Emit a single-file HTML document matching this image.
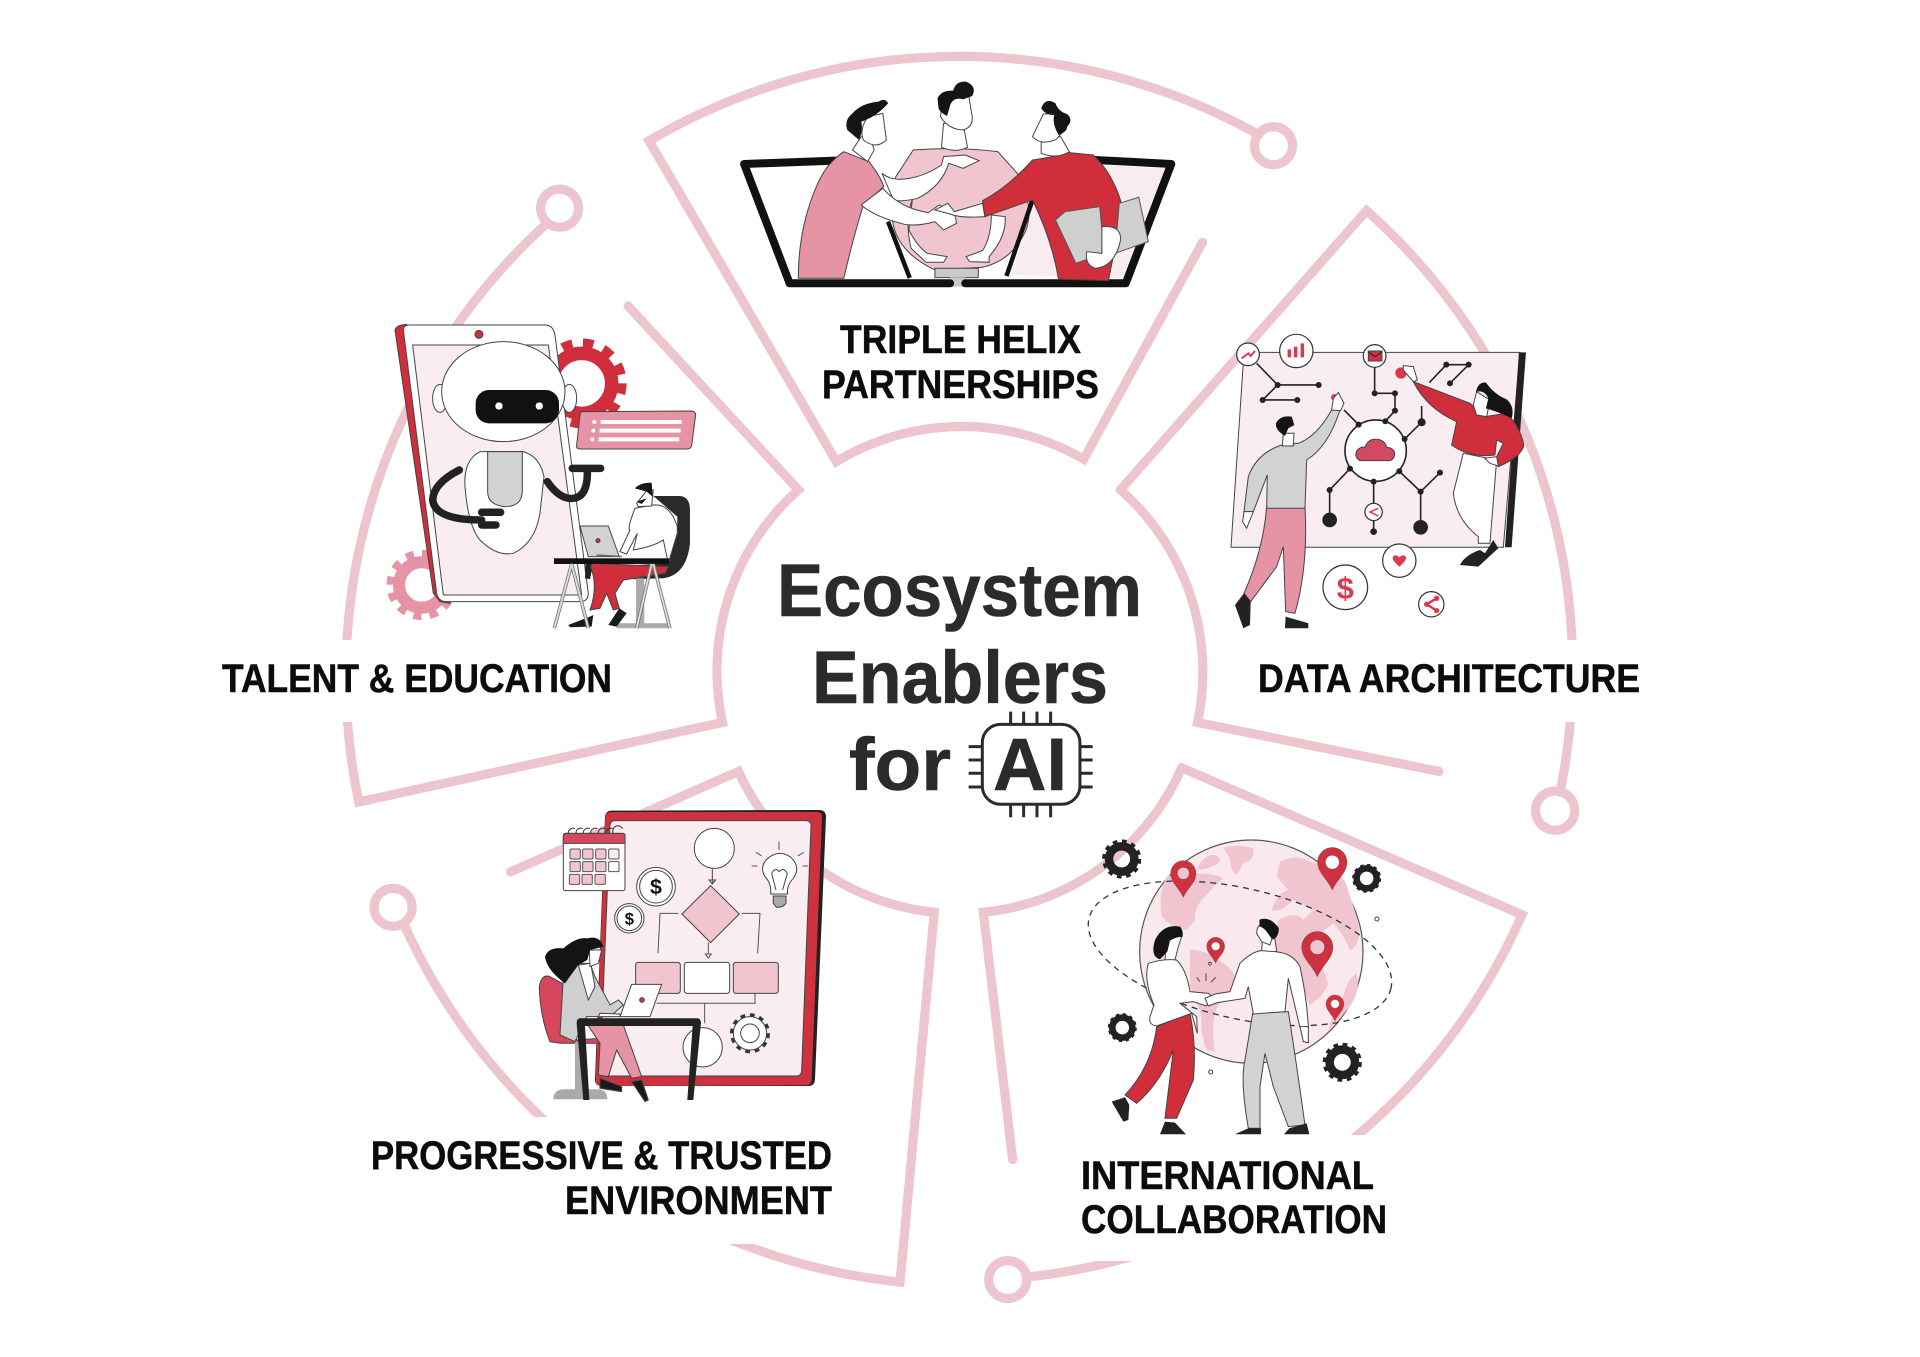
<!DOCTYPE html>
<html><head><meta charset="utf-8"><style>
html,body{margin:0;padding:0;background:#fff}
svg{display:block}
.i *{vector-effect:non-scaling-stroke}
.l{font:bold 40px "Liberation Sans",sans-serif;fill:#0c0c0c;stroke:#0c0c0c;stroke-width:.5px}
.c{font:bold 74px "Liberation Sans",sans-serif;fill:#2b2b2b;stroke:#2b2b2b;stroke-width:.6px}
</style></head><body>
<svg xmlns="http://www.w3.org/2000/svg" width="1920" height="1357" viewBox="0 0 1920 1357">
<rect width="1920" height="1357" fill="#fff"/>
<defs>
<g id="pin"><path d="M0,0C-14,-30 -38,-45 -38,-72A38,38 0 1 1 38,-72C38,-45 14,-30 0,0Z" fill="#cf323f" stroke="#444"/><circle cx="0" cy="-72" r="18" fill="currentColor" stroke="#444"/></g>
</defs>

<!-- pink structure -->
<g transform="scale(1.2245)" fill="none" stroke="#edc5ce" stroke-width="7.5" stroke-linecap="round">
<path stroke-linejoin="miter" stroke-miterlimit="20" d="M1028,110A500,500 0 0 0 530,115L683,377A198,198 0 0 1 885,375L982,198"/>
<path stroke-miterlimit="20" d="M915,400L1116,172A500,500 0 0 1 1274,647"/>
<path stroke-miterlimit="20" d="M915,400A198,198 0 0 1 978,590L1175,630"/>
<path stroke-miterlimit="20" d="M965,627L1243,747A500,500 0 0 1 838,1043"/>
<path stroke-miterlimit="20" d="M965,627A198,198 0 0 1 803,745L827,947"/>
<path stroke-miterlimit="20" d="M330,755A500,500 0 0 0 735,1047L763,745A198,198 0 0 1 603,630L417,712"/>
<path stroke-miterlimit="20" d="M447,182A500,500 0 0 0 293,655L590,590A198,198 0 0 1 652,400L513,250"/>
<circle cx="1040" cy="119" r="15.5"/><circle cx="1270" cy="662" r="16"/><circle cx="457" cy="170" r="15.5"/><circle cx="321" cy="741" r="15.5"/><circle cx="823" cy="1045" r="15.5"/>
</g>
<!-- label covers -->
<g fill="#fff">
<rect x="1250" y="640" width="410" height="82"/><rect x="210" y="640" width="410" height="82"/>
<rect x="465" y="1117" width="380" height="127"/><rect x="1070" y="1135" width="330" height="126"/>
</g>

<!-- TOP illustration -->
<g class="i" transform="translate(640,40) scale(.4337,.3333)" stroke="#444" stroke-width="1">
<polygon points="1060,375 1212,385 1118,715 855,705 905,500" fill="#f9ecf0" stroke="none"/>
<path d="M630,330Q730,320 825,335L870,400Q910,500 890,570Q860,660 790,682L680,690Q600,640 585,560Q570,470 590,410Z" fill="#f0c5cf"/>
<rect x="680" y="685" width="100" height="28" fill="#c9c9c9"/><rect x="715" y="712" width="35" height="28" fill="#c9c9c9" stroke="none"/>
<path d="M450,362L240,372L345,730L715,730M750,730L1120,730L1225,372L1050,360" fill="none" stroke="#111" stroke-width="8" stroke-linejoin="round" stroke-linecap="round"/>
<path d="M572,545L622,714M905,480L845,708" fill="none" stroke="#111" stroke-width="4.5"/>
<path d="M700,250L695,322Q730,340 755,322L745,250Z" fill="#fff"/>
<path d="M697,180L693,230Q710,268 745,270Q768,262 766,230L757,160Z" fill="#fff"/>
<path d="M686,175Q695,150 722,152Q728,122 752,125Q778,140 766,168L745,178Q725,170 716,192L708,228Q688,215 688,200Z" fill="#141414" stroke="none"/>
<path d="M558,400Q575,418 600,418Q650,415 695,375L700,350L750,345L782,362L745,385L712,370Q695,440 640,475Q610,485 585,482Z" fill="#fff"/>
<path d="M628,478L620,570Q640,620 662,640L708,650L700,667L660,667L625,625Q610,540 628,478ZM810,525L842,530Q845,590 805,650L805,667L760,665L752,650L790,632Q810,590 810,525Z" fill="#fff"/>
<path d="M470,335L528,365Q555,410 562,440L515,495Q490,600 470,715L365,715Q365,560 410,430Q430,370 470,335Z" fill="#e593a5"/>
<path d="M490,330L525,365L540,330L530,290L510,290Z" fill="#fff"/>
<path d="M525,230Q505,270 515,300Q545,330 568,300L560,220Z" fill="#fff"/>
<path d="M572,190Q565,172 550,185Q510,190 490,220Q470,240 478,270L505,300Q515,270 510,245Q545,230 572,190Z" fill="#141414" stroke="none"/>
<path d="M560,445Q600,505 665,518L690,495L725,520L730,550L700,570L680,545Q640,560 610,553Q540,530 510,495Z" fill="#fff"/>
<path d="M905,360Q950,352 990,338L1045,345Q1090,400 1110,490L1105,560L1080,722L965,718Q950,600 905,480L795,530L790,482Q850,440 905,360Z" fill="#cf2e3a"/>
<path d="M925,300L925,340Q960,358 990,336L970,290Z" fill="#fff"/>
<path d="M930,222L905,290Q925,318 960,298L975,275L965,220Z" fill="#fff"/>
<path d="M925,205Q935,170 958,190Q965,215 985,222Q1000,240 985,260Q985,275 965,285Q950,250 955,225Q935,225 925,205Z" fill="#141414" stroke="none"/>
<path d="M795,530Q740,535 715,522L680,510L710,490L725,515L790,490Z" fill="#fff"/>
<polygon points="1105,490 1150,472 1172,605 1095,640" fill="#cfcfcf" stroke="#555"/>
<polygon points="958,540 980,515 1060,500 1070,640 1005,670" fill="#cfcfcf" stroke="#555"/>
<path d="M1065,560Q1110,555 1108,600Q1095,680 1050,685Q1025,675 1030,635L1065,640Z" fill="#fff"/>
</g>

<!-- DATA illustration -->
<g class="i" transform="translate(1120,200) scale(.3333)" stroke="#444" stroke-width="1">
<polygon points="372,457 1200,457 1150,1042 333,1042" fill="#f9edf1"/>
<polygon points="1197,457 1218,457 1175,1042 1155,1042" fill="#222" stroke="none"/>
<g fill="none" stroke="#222" stroke-width="1.6">
<path d="M410,490L473,555L596,555M473,555L428,600L532,600"/>
<path d="M764,500L764,580L825,580L825,632L796,664"/>
<path d="M672,630L716,674M905,618L905,667L854,717M928,548L979,494L1046,494L990,550"/>
<path d="M690,806L629,870L629,960M761,845L761,995M838,814L902,875L902,982M902,875L960,818"/>
</g>
<circle cx="767" cy="752" r="92" fill="#fff" stroke="#222" stroke-width="1.6"/>
<path d="M720,782Q700,770 712,750Q725,738 735,742Q745,715 770,718Q795,720 800,742Q825,745 824,765Q820,782 805,782Z" fill="#d34a60" stroke="#444"/>
<g fill="#222" stroke="none">
<circle cx="473" cy="555" r="9"/><circle cx="596" cy="555" r="9"/><circle cx="428" cy="600" r="9"/><circle cx="532" cy="600" r="9"/>
<circle cx="764" cy="580" r="9"/><circle cx="825" cy="580" r="9"/><circle cx="825" cy="632" r="9"/><circle cx="796" cy="664" r="9"/><circle cx="716" cy="674" r="9"/>
<circle cx="905" cy="667" r="12"/><circle cx="854" cy="717" r="9"/><circle cx="979" cy="494" r="9"/><circle cx="1046" cy="494" r="9"/><circle cx="990" cy="550" r="9"/>
<circle cx="690" cy="806" r="9"/><circle cx="629" cy="870" r="9"/><circle cx="629" cy="960" r="22"/><circle cx="761" cy="845" r="9"/><circle cx="761" cy="995" r="10"/>
<circle cx="838" cy="814" r="9"/><circle cx="902" cy="875" r="9"/><circle cx="902" cy="982" r="22"/><circle cx="960" cy="818" r="9"/>
</g>
<g fill="#fff" stroke="#333" stroke-width="1.2">
<circle cx="384" cy="463" r="34"/><circle cx="529" cy="453" r="50"/><circle cx="764" cy="468" r="34"/><circle cx="761" cy="936" r="26"/><circle cx="838" cy="1082" r="50"/><circle cx="676" cy="1162" r="67"/><circle cx="934" cy="1213" r="38"/>
</g>
<path d="M365,475L385,460L392,468L405,453" fill="none" stroke="#d93a50" stroke-width="2"/>
<path d="M508,472V448M527,472V440M547,472V430" stroke="#d93a50" stroke-width="3.5" fill="none"/>
<rect x="745" y="453" width="41" height="30" fill="#cf323f"/><path d="M745,456L765,470L786,456" fill="none" stroke="#222"/>
<path d="M838,1100Q815,1080 818,1072Q825,1060 838,1072Q852,1060 858,1072Q860,1082 838,1100Z" fill="#d93a50" stroke="none"/>
<text x="676" y="1196" text-anchor="middle" font-family="Liberation Sans" font-weight="bold" font-size="92" fill="#d93a50" stroke="none">$</text>
<path d="M950,1195L920,1213L950,1232" fill="none" stroke="#d93a50" stroke-width="2.5"/><circle cx="950" cy="1195" r="8" fill="#d93a50" stroke="none"/><circle cx="950" cy="1232" r="8" fill="#d93a50" stroke="none"/><circle cx="920" cy="1213" r="8" fill="#d93a50" stroke="none"/>
<path d="M775,925L750,936L775,948" fill="none" stroke="#d93a50" stroke-width="1.5"/>
<circle cx="843" cy="519" r="17" fill="#d93a50" stroke="none"/><circle cx="643" cy="592" r="10" fill="#d93a50" stroke="none"/>
<!-- man -->
<path d="M440,920L555,920Q565,1100 525,1240L497,1235L490,1040L470,1100L392,1205L372,1180Q430,1050 440,920Z" fill="#e593a5"/>
<path d="M372,1180L345,1215L370,1285L390,1275L392,1205Z" fill="#222" stroke="none"/>
<path d="M497,1250L565,1270L565,1285L495,1285Z" fill="#222" stroke="none"/>
<path d="M440,925L555,925L560,780Q625,740 660,630L635,630Q590,710 535,730L485,735Q410,760 385,830L372,935L400,935L442,825Z" fill="#d2d2d2"/>
<path d="M635,630L640,595L655,578L672,610L662,632Z" fill="#fff"/>
<path d="M372,935L400,935L380,985L368,965Z" fill="#fff"/>
<path d="M490,700L487,738L520,738L522,700Z" fill="#fff"/>
<path d="M495,708Q465,690 468,670Q480,645 515,650L523,675L505,685Z" fill="#141414" stroke="none"/>
<!-- woman -->
<path d="M1030,760L1000,880Q1010,960 1075,1010L1075,1030L1110,1030L1130,780Z" fill="#fff"/>
<path d="M1080,1050Q1035,1065 1020,1095L1075,1100L1135,1045L1120,1020L1095,1060Z" fill="#222" stroke="none"/>
<path d="M880,545L1050,610L1095,650L1160,640Q1200,680 1212,735Q1205,770 1135,800L1125,780L1150,730L1130,720L1125,765Q1050,775 995,735L1010,665Q920,625 880,545Z" fill="#cf2e3a"/>
<path d="M880,545L850,510L850,497L880,500L892,540Z" fill="#fff"/>
<path d="M1095,775L1130,770L1135,798L1110,790Z" fill="#fff"/>
<path d="M1070,575L1060,615L1070,645L1100,650L1110,600Z" fill="#fff"/>
<path d="M1068,575Q1075,545 1098,548Q1125,585 1160,598Q1185,620 1175,655Q1135,635 1098,625L1105,595Q1095,570 1068,575Z" fill="#141414" stroke="none"/>
</g>

<!-- ROBOT illustration -->
<g class="i" transform="translate(340,300) scale(.3333)" stroke="#444" stroke-width="1">
<circle cx="725" cy="250" r="90" fill="none" stroke="#cf2e3a" stroke-width="13.5"/>
<circle cx="725" cy="250" r="122" fill="none" stroke="#cf2e3a" stroke-width="8.7" stroke-dasharray="10.7 10.7"/>
<circle cx="245" cy="855" r="68" fill="none" stroke="#e593a5" stroke-width="12"/>
<circle cx="245" cy="855" r="95" fill="none" stroke="#e593a5" stroke-width="7" stroke-dasharray="8.3 8.3"/>
<path d="M165,90Q168,75 200,73L330,910L300,905L280,880Z" fill="#cf2e3a"/>
<path d="M190,90Q190,75 210,75L615,75Q640,75 645,105L745,880Q745,905 720,905L320,905Q295,905 290,880Z" fill="#fff"/>
<polygon points="218,135 625,135 725,885 310,885" fill="#f9edf1"/>
<circle cx="417" cy="103" r="12" fill="#cf2e3a"/>
<ellipse cx="300" cy="295" rx="22" ry="42" fill="#fff"/><ellipse cx="688" cy="295" rx="22" ry="42" fill="#fff"/>
<ellipse cx="490" cy="275" rx="185" ry="150" fill="#fff"/>
<rect x="407" y="270" width="250" height="100" rx="40" fill="#111" stroke="none"/>
<circle cx="477" cy="318" r="11" fill="#fff" stroke="none"/><circle cx="598" cy="318" r="11" fill="#fff" stroke="none"/>
<path d="M420,455Q370,480 375,560Q385,680 420,720Q470,770 520,760Q585,730 600,640L612,530Q600,470 550,455Z" fill="#fff"/>
<path d="M443,455L547,455L547,575Q545,620 495,620Q443,615 443,575Z" fill="#d2d2d2"/>
<g fill="none" stroke="#222" stroke-width="7.5" stroke-linecap="round">
<path d="M358,510Q280,550 278,600Q285,660 425,660M425,637L482,637M425,675L468,675"/>
<path d="M622,545Q660,600 700,595Q745,590 742,508M697,505L782,505"/>
</g>
<path d="M722,335L1055,333Q1067,335 1067,345L1055,437Q1052,447 1042,447L720,447Q708,447 710,435L720,345Z" fill="#e593a5"/>
<path d="M782,366H1025M779,392H1022M776,418H1018" stroke="#fff" stroke-width="4" fill="none"/>
<circle cx="763" cy="366" r="6" fill="#fff" stroke="none"/><circle cx="760" cy="392" r="6" fill="#fff" stroke="none"/><circle cx="757" cy="418" r="6" fill="#fff" stroke="none"/>
<!-- seated man -->
<path d="M940,588L1020,588Q1050,590 1050,630L1050,730Q1040,825 970,835L880,838L890,795L985,790L1012,700L1012,650Z" fill="#2a2a2a" stroke="none"/>
<path d="M737,790L760,790L750,838L735,835Z" fill="#222" stroke="none"/>
<rect x="888" y="835" width="25" height="145" fill="#aaa" stroke="none"/>
<polygon points="830,970 980,970 990,985 830,985" fill="#aaa" stroke="none"/>
<path d="M720,678L805,678L838,770L745,770Z" fill="#d2d2d2"/><circle cx="774" cy="722" r="6" fill="#cf2e3a"/>
<path d="M770,765L845,770" stroke="#666" stroke-width="1.5"/>
<path d="M885,625Q860,690 870,690L840,755L860,762L892,700L880,750Q940,740 970,720L985,790L1012,700L1012,680Q990,610 940,615Z" fill="#fff"/>
<path d="M920,572L890,610L895,620L935,618L940,570Z" fill="#fff"/>
<path d="M885,565Q900,548 935,548L938,590L920,575ZM890,605L905,612L920,595Z" fill="#141414" stroke="none"/>
<path d="M755,790L985,800L975,820L850,840L825,880L838,925L820,930L800,880L780,925L750,930Q775,860 752,800Z" fill="#cf2e3a"/>
<path d="M750,950L685,975L690,982L755,980L760,945Z" fill="#1a1a1a" stroke="none"/><path d="M838,925L805,975L830,980L860,940Z" fill="#1a1a1a" stroke="none"/>
<rect x="642" y="775" width="345" height="17" fill="#111" stroke="none"/>
<g fill="none" stroke="#777" stroke-width="3.5"><path d="M695,792L643,985M695,792L745,985M935,792L890,985M940,792L990,985"/></g>
<g fill="none" stroke="#ddd" stroke-width="1.8"><path d="M695,792L643,985M695,792L745,985M935,792L890,985M940,792L990,985"/></g>
</g>

<!-- FLOW illustration -->
<g class="i" transform="translate(500,790) scale(.3333)" stroke="#444" stroke-width="1">
<path d="M335,62L960,60Q980,62 978,85L945,870Q943,888 925,888L300,888Q285,885 285,870L315,80Q318,62 335,62Z" fill="#222" stroke="none"/>
<path d="M335,66L955,66Q968,68 966,85L935,870Q933,886 918,886L302,888Q285,885 287,870L316,82Q318,66 335,66Z" fill="#cf323f" stroke="none"/>
<path d="M345,92L920,92Q935,94 933,110L905,845Q902,858 890,858L312,858Q298,855 300,842L330,105Q332,92 345,92Z" fill="#f9edf1"/>
<rect x="190" y="130" width="185" height="172" rx="7" fill="#fff"/>
<path d="M197,130H368Q375,130 375,137V160H190V137Q190,130 197,130Z" fill="#d6475c"/>
<path d="M205,130a14,14 0 0 1 20,-14M228,130a14,14 0 0 1 20,-14M250,130a14,14 0 0 1 20,-14M272,130a14,14 0 0 1 20,-14M295,130a14,14 0 0 1 20,-14M318,130a14,14 0 0 1 20,-14M340,130a14,14 0 0 1 28,-14" fill="none" stroke="#333"/>
<g fill="#f0c5cf" stroke="#555">
<rect x="210" y="177" width="31" height="30" rx="4"/><rect x="248" y="177" width="31" height="30" rx="4"/><rect x="287" y="177" width="31" height="30" rx="4"/><rect x="326" y="177" width="31" height="30" rx="4" fill="#f9edf1"/>
<rect x="210" y="215" width="31" height="30" rx="4"/><rect x="248" y="215" width="31" height="30" rx="4"/><rect x="287" y="215" width="31" height="30" rx="4"/><rect x="326" y="215" width="31" height="30" rx="4" fill="#fff"/>
<rect x="208" y="253" width="31" height="30" rx="4"/><rect x="246" y="253" width="31" height="30" rx="4"/><rect x="285" y="253" width="31" height="30" rx="4"/>
</g>
<circle cx="468" cy="290" r="58" fill="#fff"/><circle cx="468" cy="290" r="49" fill="none"/>
<circle cx="388" cy="385" r="44" fill="#fff"/><circle cx="388" cy="385" r="37" fill="none"/>
<text x="468" y="312" text-anchor="middle" font-family="Liberation Sans" font-weight="bold" font-size="64" fill="#111" stroke="none">$</text>
<text x="388" y="403" text-anchor="middle" font-family="Liberation Sans" font-weight="bold" font-size="50" fill="#111" stroke="none">$</text>
<circle cx="643" cy="175" r="60" fill="#fff"/>
<path d="M637,237V280M627,270L637,282L647,270Z" fill="none"/>
<polygon points="632,287 718,372 632,458 546,372" fill="#f0c5cf"/>
<path d="M535,370H480L474,490M725,370H780L773,490M625,458V492M616,492L625,504L634,492Z" fill="none" stroke="#555"/>
<rect x="407" y="517" width="134" height="93" rx="8" fill="#f0c5cf"/><rect x="553" y="517" width="136" height="93" rx="8" fill="#fff"/><rect x="700" y="517" width="135" height="93" rx="8" fill="#f0c5cf"/>
<path d="M470,640H765V612M614,640V700" fill="none" stroke="#555"/>
<circle cx="608" cy="772" r="59" fill="#fff"/>
<circle cx="750" cy="730" r="54" fill="none" stroke="#333" stroke-width="4" stroke-dasharray="4.7 4.7"/><circle cx="750" cy="730" r="50" fill="#fff"/><circle cx="750" cy="730" r="28" fill="none"/>
<!-- bulb -->
<path d="M812,312Q815,280 795,260Q775,225 810,200Q840,180 870,200Q905,230 880,265Q860,285 863,312Z" fill="#fff"/>
<path d="M820,318H858V340Q850,352 830,352L820,340Z" fill="#aaa"/>
<path d="M828,300L815,250Q825,230 838,245Q850,230 862,250L848,300" fill="none"/>
<path d="M837,180V155M893,198L912,187M768,187L785,198M755,228H772M908,228H925" fill="none" stroke="#555"/>
<!-- woman -->
<path d="M150,755Q120,680 118,590Q125,550 150,560L205,590L230,750L300,745L300,760L180,760Z" fill="#d6475c"/>
<rect x="225" y="755" width="22" height="150" fill="#aaa" stroke="none"/>
<path d="M160,928Q160,900 190,898H295Q322,900 322,928Z" fill="#aaa" stroke="none"/>
<path d="M190,560L180,735L225,755L260,680L330,680L370,645L355,630L330,645L285,560L270,520L225,520Z" fill="#cfcfcf"/>
<path d="M235,525L265,630L285,590L272,520Z" fill="#fff"/>
<path d="M260,700L370,705L425,860L395,865L350,780L325,860L295,855L300,760Z" fill="#e593a5"/>
<path d="M300,865L365,890L365,905L300,895ZM395,875L425,870L445,930L435,935Z" fill="#1a1a1a"/>
<path d="M305,480L268,480L270,530L295,520Z" fill="#fff"/>
<path d="M262,445Q300,435 310,470L270,480L262,510L235,525L195,580Q140,540 135,500Q145,470 190,475Q230,440 262,445Z" fill="#141414" stroke="none"/>
<path d="M395,583L485,583L450,680L360,680Z" fill="#fff"/><circle cx="426" cy="630" r="7" fill="#cf323f"/>
<path d="M300,670L360,672L360,680H295Z" fill="#fff"/>
<path d="M240,685H590Q603,685 603,698L580,930H562L578,708L255,708L268,930H250L230,700Q230,685 240,685Z" fill="#222" stroke="none"/>
</g>

<!-- GLOBE illustration -->
<g class="i" transform="translate(1080,820) scale(.3333)" stroke="#444" stroke-width="1">
<circle cx="514" cy="395" r="335" fill="#f9e8ec" stroke="#555" stroke-width="1.2"/>
<g fill="#f0c5cf" stroke="none">
<path d="M430,85Q470,70 520,85Q525,120 490,130L470,165Q450,150 450,115Z"/>
<path d="M390,105Q430,105 415,130Q380,150 350,150Q360,120 390,105ZM260,170Q300,150 345,160Q410,160 430,175Q400,200 380,225Q340,260 345,300L320,330Q270,320 245,290Q235,220 260,170Z"/>
<path d="M600,125Q650,100 690,125Q790,150 800,200Q830,280 840,340Q830,385 810,390Q790,340 760,310Q730,330 700,370L745,490Q730,530 690,555L650,470L580,380L595,300Q650,270 670,300L700,270L640,240Q600,280 575,270Q590,220 625,210L590,170Z"/>
<path d="M330,390Q370,385 430,430Q480,465 465,500Q430,530 410,565Q390,620 405,695L380,690Q360,640 365,590Q350,540 330,500Z"/>
<path d="M830,460Q845,520 800,570Q770,610 745,630Q760,570 790,530Q800,480 830,460Z"/>
</g>
<ellipse cx="480" cy="400" rx="465" ry="195" transform="rotate(13 480 400)" fill="none" stroke="#333" stroke-width="1.3" stroke-dasharray="6 5"/>
<circle cx="891" cy="297" r="6" fill="#fff"/><circle cx="392" cy="756" r="6" fill="#fff"/><circle cx="390" cy="431" r="4" fill="#fff"/>
<use href="#pin" color="#f0c5cf" transform="translate(310,232) scale(1.0)"/>
<use href="#pin" color="#fff" transform="translate(757,210) scale(1.16)"/>
<use href="#pin" color="#fff" transform="translate(407,430) scale(.71)"/>
<use href="#pin" color="#f0c5cf" transform="translate(712,470) scale(1.23)"/>
<use href="#pin" color="#fff" transform="translate(765,603) scale(.71)"/>
<path d="M360,485L350,472M378,483V460M393,487L407,472" stroke="#444" fill="none"/>
<g fill="none" stroke="#222">
<circle cx="125" cy="117" r="38" stroke-width="8.5"/><circle cx="125" cy="117" r="52" stroke-width="4.5" stroke-dasharray="4.55 4.55"/>
<circle cx="860" cy="175" r="30" stroke-width="6.5"/><circle cx="860" cy="175" r="39" stroke-width="3" stroke-dasharray="3.4 3.4"/>
<circle cx="127" cy="623" r="30" stroke-width="6.5"/><circle cx="127" cy="623" r="39" stroke-width="3" stroke-dasharray="3.4 3.4"/>
<circle cx="787" cy="727" r="38" stroke-width="8.5"/><circle cx="787" cy="727" r="52" stroke-width="4.5" stroke-dasharray="4.55 4.55"/>
</g>
<!-- woman -->
<path d="M230,620L330,580Q350,680 340,780L290,895L255,895L280,690Q240,790 170,850L135,825Q215,740 230,620Z" fill="#cf2e3a"/>
<path d="M135,832L95,845L130,905L145,900L148,855Z" fill="#222" stroke="none"/>
<path d="M255,905L285,908L318,943H240Z" fill="#222" stroke="none"/>
<path d="M260,350L255,420L285,420L295,380L305,350Z" fill="#fff"/>
<path d="M300,320Q250,310 225,360Q210,410 240,418L262,395L270,362Q290,350 308,350Q310,330 300,320Z" fill="#141414" stroke="none"/>
<path d="M205,430Q250,415 290,420Q320,450 330,515L385,520L400,535L378,558L340,545L300,550L350,590L352,640L335,580L230,618Q205,615 210,590L222,555Q190,480 205,430Z" fill="#fff"/>
<!-- man -->
<path d="M518,580L625,575Q645,700 675,915L625,920L580,800L555,700L540,800L540,925H505Q480,780 495,720Z" fill="#d2d2d2"/>
<path d="M505,925L543,925V943H465ZM628,925L680,910L688,943H612Z" fill="#222" stroke="none"/>
<path d="M545,395L590,395L580,320L550,320Z" fill="#fff"/>
<path d="M530,340Q530,320 545,310L580,340L570,375L545,365Z" fill="#fff"/>
<path d="M540,300Q570,290 595,325Q595,350 578,357L562,335Q550,320 540,318Z" fill="#141414" stroke="#141414"/>
<path d="M480,430Q515,395 545,392L585,395Q640,400 660,440Q680,530 685,620L660,622L625,475L615,575L520,582L505,500L495,535L412,548L385,558L375,535L405,522L450,515Z" fill="#fff"/>
<path d="M660,620L685,620L685,668L670,665Z" fill="#fff"/>
</g>

<!-- labels -->
<text class="l" x="840" y="353" textLength="241" lengthAdjust="spacingAndGlyphs">TRIPLE HELIX</text>
<text class="l" x="822" y="398" textLength="277" lengthAdjust="spacingAndGlyphs">PARTNERSHIPS</text>
<text class="l" x="222" y="692" textLength="390" lengthAdjust="spacingAndGlyphs">TALENT &amp; EDUCATION</text>
<text class="l" x="1258" y="692" textLength="382" lengthAdjust="spacingAndGlyphs">DATA ARCHITECTURE</text>
<text class="l" x="371" y="1169" textLength="461" lengthAdjust="spacingAndGlyphs">PROGRESSIVE &amp; TRUSTED</text>
<text class="l" x="565" y="1214" textLength="267" lengthAdjust="spacingAndGlyphs">ENVIRONMENT</text>
<text class="l" x="1081" y="1189" textLength="293" lengthAdjust="spacingAndGlyphs">INTERNATIONAL</text>
<text class="l" x="1081" y="1233" textLength="306" lengthAdjust="spacingAndGlyphs">COLLABORATION</text>

<!-- center -->
<text class="c" x="777" y="616" textLength="365" lengthAdjust="spacingAndGlyphs">Ecosystem</text>
<text class="c" x="812" y="703" textLength="296" lengthAdjust="spacingAndGlyphs">Enablers</text>
<text class="c" x="849" y="790" textLength="102" lengthAdjust="spacingAndGlyphs">for</text>
<g class="i" transform="translate(740,540) scale(.3333)" fill="none" stroke="#2b2b2b">
<path d="M812,515V553M851,515V553M891,515V553M932,515V553M812,793V832M851,793V832M891,793V832M932,793V832M686,620H727M686,660H727M686,700H727M686,741H727M1020,620H1058M1020,660H1058M1020,700H1058M1020,741H1058" stroke-width="3"/>
<rect x="727" y="553" width="293" height="240" rx="55" fill="#fff" stroke-width="3"/>
</g>
<text class="c" x="993" y="790" textLength="74" lengthAdjust="spacingAndGlyphs">AI</text>
</svg>
</body></html>
